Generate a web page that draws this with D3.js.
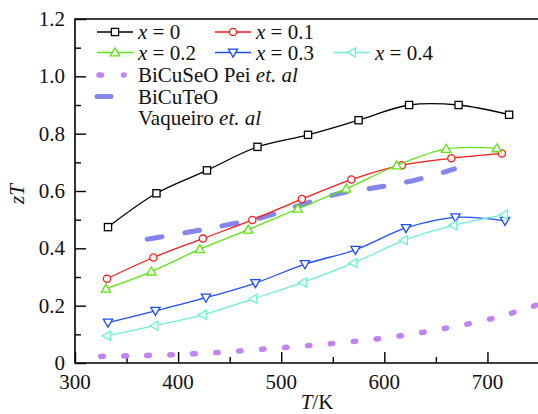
<!DOCTYPE html>
<html>
<head>
<meta charset="utf-8">
<script src="https://cdn.jsdelivr.net/npm/d3@7"></script>
</head>
<body style="margin:0">
<script>
var svgWidth = 538;
var svgHeight = 414;
var serif = "'Liberation Serif'";

// temperatures (K) and zT for each x
var temps0 = [332, 379, 428, 477, 526, 575, 624, 672, 721];
var zt0 = [0.474, 0.592, 0.672, 0.754, 0.796, 0.847, 0.900, 0.900, 0.866];
var temps1 = [331, 376, 424, 472, 520, 568, 617, 665, 714];
var zt1 = [0.294, 0.368, 0.434, 0.499, 0.572, 0.640, 0.690, 0.714, 0.731];
var temps2 = [330, 374, 421, 468, 516, 563, 612, 660, 709];
var zt2 = [0.259, 0.319, 0.397, 0.465, 0.538, 0.608, 0.689, 0.747, 0.749];
var temps3 = [332, 378, 427, 475, 523, 572, 621, 669, 717];
var zt3 = [0.141, 0.182, 0.228, 0.279, 0.345, 0.395, 0.471, 0.508, 0.496];
var temps4 = [331, 377, 424, 473, 521, 570, 619, 667, 716];
var zt4 = [0.095, 0.130, 0.168, 0.224, 0.281, 0.349, 0.428, 0.480, 0.517];

// literature curves
var peiTemps = [325, 350, 395, 440, 485, 530, 575, 620, 665, 710, 750];
var peiZt = [0.023, 0.025, 0.029, 0.037, 0.049, 0.062, 0.077, 0.097, 0.125, 0.160, 0.205];
var vaqTemps = [370, 408, 445, 482, 518, 555, 592, 630, 668];
var vaqZt = [0.432, 0.455, 0.480, 0.508, 0.550, 0.590, 0.612, 0.638, 0.677];

var xMajor = [300, 400, 500, 600, 700];
var xMinor = [350, 450, 550, 650];
var yMajor = [0, 0.2, 0.4, 0.6, 0.8, 1.0, 1.2];
var yMinor = [0.1, 0.3, 0.5, 0.7, 0.9, 1.1];

var margin = { top: 19, right: 0, bottom: 51, left: 75 };
var width = 464;
var height = svgHeight - margin.top - margin.bottom;

var svg = d3.select("body")
  .append("svg")
  .attr("width", svgWidth)
  .attr("height", svgHeight);

// every label goes through here so the serif face is set on creation
function addText(parent, x, y, content) {
  var t = parent.append("text")
    .attr("x", x).attr("y", y)
    .attr("font-size", "21px")
    .attr("fill", "#111")
    .style("font-family", serif);
  if (content) t.text(content);
  return t;
}

var chartGroup = svg.append("g")
  .attr("transform", `translate(${margin.left}, ${margin.top})`);

var xScale = d3.scaleLinear().domain([300, 750]).range([0, width]);
var yScale = d3.scaleLinear().domain([0, 1.2]).range([height, 0]);

// axes with inward ticks; labels drawn separately
var bottomAxis = d3.axisBottom(xScale).tickValues(xMajor)
  .tickSizeInner(-11).tickSizeOuter(0).tickFormat("");
var bottomMinor = d3.axisBottom(xScale).tickValues(xMinor)
  .tickSizeInner(-6).tickSizeOuter(0).tickFormat("");
var leftAxis = d3.axisLeft(yScale).tickValues(yMajor)
  .tickSizeInner(-11).tickSizeOuter(0).tickFormat("");
var leftMinor = d3.axisLeft(yScale).tickValues(yMinor)
  .tickSizeInner(-6).tickSizeOuter(0).tickFormat("");

function styleAxis(g) {
  g.select(".domain").remove();
  g.selectAll("text").remove();
  g.selectAll("line").attr("stroke", "#000").attr("stroke-width", 1.4);
}

chartGroup.append("g").attr("transform", `translate(0, ${height})`).call(bottomAxis).call(styleAxis);
chartGroup.append("g").attr("transform", `translate(0, ${height})`).call(bottomMinor).call(styleAxis);
chartGroup.append("g").call(leftAxis).call(styleAxis);
chartGroup.append("g").call(leftMinor).call(styleAxis);

// tick labels
xMajor.forEach(function(v) {
  addText(chartGroup, xScale(v), height + 26, d3.format("d")(v)).attr("text-anchor", "middle");
});
yMajor.forEach(function(v) {
  addText(chartGroup, -10, yScale(v) + 7, v === 0 ? "0" : d3.format(".1f")(v)).attr("text-anchor", "end");
});

// frame
chartGroup.append("path")
  .attr("d", `M${width + 2},0H0V${height}H${width + 2}`)
  .attr("fill", "none")
  .attr("stroke", "#000")
  .attr("stroke-width", 1.6);

svg.append("clipPath").attr("id", "plotclip")
  .append("rect").attr("x", 0).attr("y", 0).attr("width", width).attr("height", height);

var plot = chartGroup.append("g").attr("clip-path", "url(#plotclip)");

var line = d3.line()
  .x(d => xScale(d[0]))
  .y(d => yScale(d[1]))
  .curve(d3.curveCatmullRom.alpha(0.5));

function pairs(ts, vs) { return ts.map((t, i) => [t, vs[i]]); }

// literature curves
plot.append("path")
  .datum(pairs(peiTemps, peiZt))
  .attr("d", line)
  .attr("fill", "none")
  .attr("stroke", "#c183f2")
  .attr("stroke-width", 5.5)
  .attr("stroke-linecap", "round")
  .attr("stroke-dasharray", "2.5,20.5");

plot.append("path")
  .datum(pairs(vaqTemps, vaqZt))
  .attr("d", line)
  .attr("fill", "none")
  .attr("stroke", "#8585f0")
  .attr("stroke-width", 5)
  .attr("stroke-linecap", "round")
  .attr("stroke-dasharray", "15,23");

var series = [
  { label: "0", temps: temps0, zt: zt0, color: "#000000", marker: "square" },
  { label: "0.1", temps: temps1, zt: zt1, color: "#ff1a1a", marker: "circle" },
  { label: "0.2", temps: temps2, zt: zt2, color: "#5ee612", marker: "up" },
  { label: "0.3", temps: temps3, zt: zt3, color: "#1f4dff", marker: "down" },
  { label: "0.4", temps: temps4, zt: zt4, color: "#6af5c8", marker: "left" }
];

function drawMarker(g, type, cx, cy, color) {
  if (type === "square") {
    g.append("rect").attr("x", cx - 3.6).attr("y", cy - 3.6).attr("width", 7.2).attr("height", 7.2)
      .attr("fill", "#fff").attr("stroke", color).attr("stroke-width", 1.3);
  } else if (type === "circle") {
    g.append("circle").attr("cx", cx).attr("cy", cy).attr("r", 3.6)
      .attr("fill", "#fff").attr("stroke", color).attr("stroke-width", 1.3);
  } else {
    var s = 4.6, pts;
    if (type === "up") pts = [[cx, cy - s], [cx + s, cy + s * 0.75], [cx - s, cy + s * 0.75]];
    if (type === "down") pts = [[cx, cy + s], [cx + s, cy - s * 0.75], [cx - s, cy - s * 0.75]];
    if (type === "left") pts = [[cx - s, cy], [cx + s * 0.75, cy - s], [cx + s * 0.75, cy + s]];
    g.append("polygon").attr("points", pts.map(p => p.join(",")).join(" "))
      .attr("fill", "#fff").attr("stroke", color).attr("stroke-width", 1.3);
  }
}

series.forEach(function(s) {
  var data = pairs(s.temps, s.zt);
  plot.append("path")
    .datum(data)
    .attr("d", line)
    .attr("fill", "none")
    .attr("stroke", s.color)
    .attr("stroke-width", 1.3);
  var mg = plot.append("g");
  data.forEach(d => drawMarker(mg, s.marker, xScale(d[0]), yScale(d[1]), s.color));
});

// legend
var legend = svg.append("g");
var legendPos = [[97, 32], [215, 32], [97, 52.5], [215, 52.5], [334, 52.5]];

series.forEach(function(s, i) {
  var lx = legendPos[i][0], ly = legendPos[i][1];
  legend.append("line").attr("x1", lx).attr("x2", lx + 36).attr("y1", ly).attr("y2", ly)
    .attr("stroke", s.color).attr("stroke-width", 1.3);
  drawMarker(legend, s.marker, lx + 18, ly, s.color);
  var t = addText(legend, lx + 41, ly + 7);
  t.append("tspan").attr("font-style", "italic").text("x");
  t.append("tspan").text(" = " + s.label);
});

legend.append("line").attr("x1", 99).attr("x2", 124).attr("y1", 75).attr("y2", 75)
  .attr("stroke", "#c183f2").attr("stroke-width", 5.5)
  .attr("stroke-linecap", "round").attr("stroke-dasharray", "2.5,22");
var t1 = addText(legend, 138, 82);
t1.append("tspan").text("BiCuSeO Pei ");
t1.append("tspan").attr("font-style", "italic").text("et. al");

legend.append("line").attr("x1", 97).attr("x2", 111).attr("y1", 96.5).attr("y2", 96.5)
  .attr("stroke", "#8585f0").attr("stroke-width", 5)
  .attr("stroke-linecap", "round");
addText(legend, 138, 103.5, "BiCuTeO");
var t2 = addText(legend, 138, 125);
t2.append("tspan").text("Vaqueiro ");
t2.append("tspan").attr("font-style", "italic").text("et. al");

// axis titles
var xt = addText(svg, 317, 409).attr("text-anchor", "middle");
xt.append("tspan").attr("font-style", "italic").text("T");
xt.append("tspan").text("/K");

addText(svg, 0, 0, "zT")
  .attr("transform", "translate(24, 194) rotate(-90)")
  .attr("text-anchor", "middle")
  .attr("font-style", "italic");

// resolve styles now, before the page is photographed
var resolvedFont = getComputedStyle(t1.node()).fontFamily;
</script>
</body>
</html>
